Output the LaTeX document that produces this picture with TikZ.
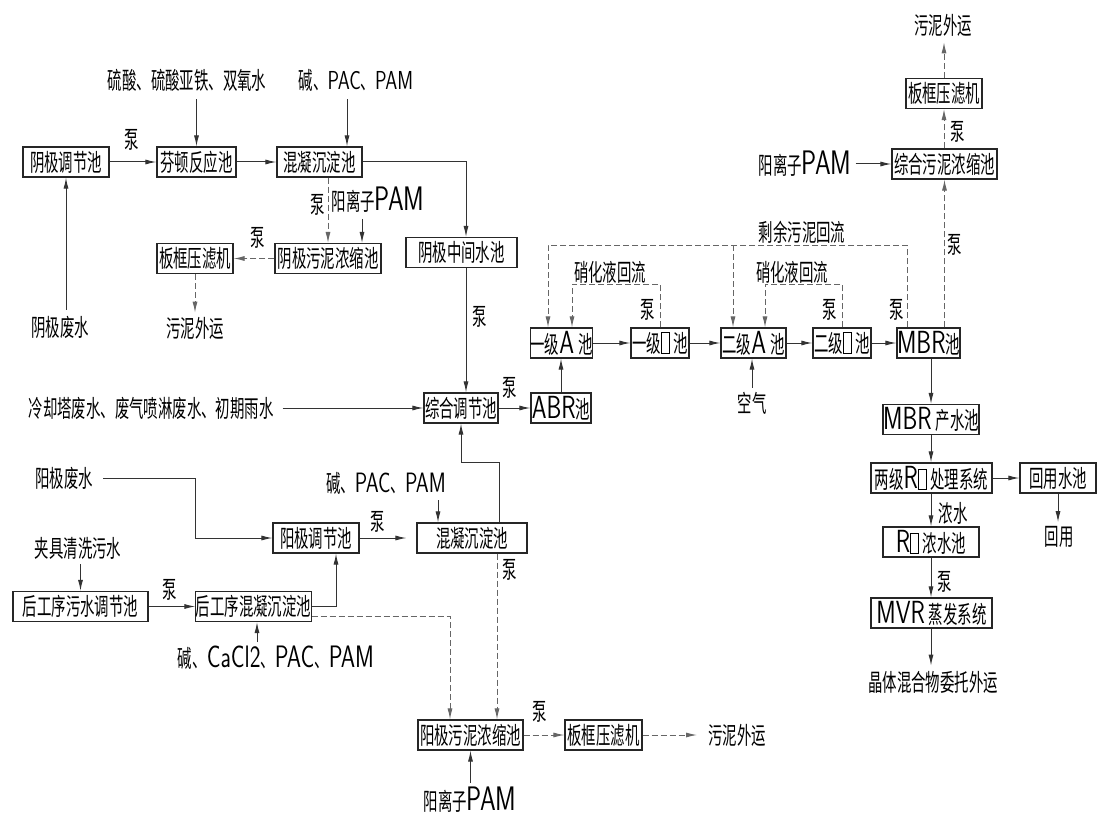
\documentclass[tikz,border=0pt]{standalone}
\usepackage{fontspec}
\usepackage{graphicx}
\setmainfont[FakeStretch=0.6]{Noto Sans CJK SC}
\usetikzlibrary{arrows.meta,calc}
\newcommand\lt[2][32]{{\sffamily\fontsize{#1}{#1}\selectfont\addfontfeatures{LetterSpace=20}\scalebox{0.74}[1]{#2}}}
\newcommand\tofu{\raisebox{-0.05em}{\setlength\fboxsep{0pt}\setlength\fboxrule{0.8pt}\fbox{\rule{0pt}{20pt}\hspace{7pt}}}}
\tikzset{
  box/.style={draw=black!85, line width=1.1pt, minimum height=30pt, inner sep=0pt, font=\fontsize{24}{26}\selectfont},
  txt/.style={inner sep=0pt, font=\fontsize{24}{26}\selectfont},
  arr/.style={draw=black!80, line width=1pt, -{Latex[length=11pt,width=5pt]}},
  dsh/.style={arr, draw=black!60, dash pattern=on 6pt off 3pt}
}
\begin{document}
\begin{tikzpicture}[x=1pt,y=-1pt]
\useasboundingbox (0,0) rectangle (1097,818);
\fill[white] (0,0) rectangle (1097,818);
% ---------- boxes ----------
\node[box,minimum width=86pt]  (yjtj)   at (66,162)     {阴极调节池};
\node[box,minimum width=79pt]  (fenton) at (196.5,162)  {芬顿反应池};
\node[box,minimum width=85pt]  (hn1)    at (319.5,162)  {混凝沉淀池};
\node[box,minimum width=76pt]  (bk1)    at (195,258.5)  {板框压滤机};
\node[box,minimum width=106pt] (yjwn)   at (328,258.5)  {阴极污泥浓缩池};
\node[box,minimum width=111pt] (yjzj)   at (461.5,252.5){阴极中间水池};
\node[box,minimum width=74pt]  (zh)     at (461,408)    {综合调节池};
\node[box,minimum width=60pt]  (abr)    at (561,408)    {\lt{ABR}池};
\node[box,minimum width=61pt]  (a1)     at (561.5,343)  {一级\lt{A}\,池};
\node[box,minimum width=58pt]  (o1)     at (660,343)    {一级\tofu\,池};
\node[box,minimum width=65pt]  (a2)     at (753.5,343)  {二级\lt{A}\,池};
\node[box,minimum width=58pt]  (o2)     at (842,343)    {二级\tofu\,池};
\node[box,minimum width=61pt]  (mbr)    at (928.5,343)  {\lt{MBR}池};
\node[box,minimum width=105pt] (zhwn)   at (944.5,164)  {综合污泥浓缩池};
\node[box,minimum width=76pt]  (bk2)    at (944,93.5)   {板框压滤机};
\node[box,minimum width=96pt]  (mbrcs)  at (931,419.5)  {\lt{MBR}\,产水池};
\node[box,minimum width=121pt] (ro)     at (931.5,478)  {两级\lt{R}\tofu\,处理系统};
\node[box,minimum width=76pt]  (hy)     at (1058,478)   {回用水池};
\node[box,minimum width=96pt]  (ronz)   at (931,542)    {\lt{R}\tofu\,浓水池};
\node[box,minimum width=121pt] (mvr)    at (931.5,613)  {\lt{MVR}\,蒸发系统};
\node[box,minimum width=86pt]  (yangtj) at (316,538)    {阳极调节池};
\node[box,minimum width=110pt] (hn2)    at (472,538)    {混凝沉淀池};
\node[box,minimum width=135pt] (hgtj)   at (80.5,606.5) {后工序污水调节池};
\node[box,minimum width=113pt] (hghn)   at (253.5,606.5){后工序混凝沉淀池};
\node[box,minimum width=105pt] (yangwn) at (470.5,735)  {阳极污泥浓缩池};
\node[box,minimum width=77pt]  (bk3)    at (603.5,735)  {板框压滤机};
% ---------- texts ----------
\node[txt] (t1)  at (187,80)  {硫酸、硫酸亚铁、双氧水};
\node[txt] (t2)  at (356,80)  {碱、\lt[26]{PAC}、\lt[26]{PAM}};
\node[txt] (t3)  at (378,200) {阳离子\lt[34]{PAM}};
\node[txt] (t4)  at (60,327)  {阴极废水};
\node[txt] (t5)  at (195,328) {污泥外运};
\node[txt] (t6)  at (151,408) {冷却塔废水、废气喷淋废水、初期雨水};
\node[txt] (t7)  at (64,478)  {阳极废水};
\node[txt] (t8)  at (78,548)  {夹具清洗污水};
\node[txt] (t9)  at (386,483) {碱、\lt[28]{PAC}、\lt[28]{PAM}};
\node[txt] (t10) at (276,658) {碱、\lt[31]{CaCl2}、\lt[31]{PAC}、\lt[31]{PAM}};
\node[txt] (t11) at (470,800) {阳离子\lt[34]{PAM}};
\node[txt] (t12) at (737,735) {污泥外运};
\node[txt] (t13) at (752,403) {空气};
\node[txt] (t14) at (802,232) {剩余污泥回流};
\node[txt] (t15) at (610,272) {硝化液回流};
\node[txt] (t15b) at (792,272) {硝化液回流};
\node[txt] (t16) at (805,164) {阳离子\lt[34]{PAM}};
\node[txt] (t17) at (943,25)  {污泥外运};
\node[txt] (t18) at (1059,537) {回用};
\node[txt] (t19) at (933,682) {晶体混合物委托外运};
% pump labels
\node[txt] (p1)  at (132,140) {泵};
\node[txt] (p2)  at (318,205) {泵};
\node[txt] (p3)  at (258,238) {泵};
\node[txt] (p4)  at (480,317) {泵};
\node[txt] (p5)  at (510,388) {泵};
\node[txt] (p6)  at (648,310) {泵};
\node[txt] (p7)  at (830,310) {泵};
\node[txt] (p8)  at (897,310) {泵};
\node[txt] (p9)  at (958,132) {泵};
\node[txt] (p10) at (955,245) {泵};
\node[txt] (p11) at (945,582) {泵};
\node[txt] (p12) at (378,522) {泵};
\node[txt] (p13) at (510,570) {泵};
\node[txt] (p14) at (170,590) {泵};
\node[txt] (p15) at (540,712) {泵};
\node[txt] (nsh) at (953,513) {浓水};
% ---------- coordinates ----------
\coordinate (hn1a) at ($(hn1.north)+(27.5,0)$);
\coordinate (yjzja) at ($(yjzj.north)+(4.5,0)$);
\coordinate (yjwna) at ($(yjwn.north)+(34,0)$);
\coordinate (mbrt) at ($(mbr.north)+(-21.5,0)$);
\coordinate (top) at ($(mbrt)+(0,-82)$);
\coordinate (a1o) at ($(a1.north)+(-13.5,0)$);
\coordinate (a2o) at ($(a2.north)+(-20.5,0)$);
\coordinate (a1i) at ($(a1.north)+(10.5,0)$);
\coordinate (a2i) at ($(a2.north)+(11.5,0)$);
\coordinate (mbrr) at ($(mbr.north)+(16,0)$);
\coordinate (k1) at (195,538);
\coordinate (yangtja) at ($(yangtj.south)+(20,0)$);
\coordinate (hghnb) at ($(hghn.south)+(3.5,0)$);
\coordinate (hghnr) at ($(hghn.east)+(0,10)$);
\coordinate (yangwna) at ($(yangwn.north)+(-20.5,0)$);
\coordinate (hn2a) at ($(hn2.north)+(-34,0)$);
\coordinate (hn2b) at ($(hn2.north)+(27,0)$);
\coordinate (hn2c) at ($(hn2.south)+(25,0)$);
% ---------- connectors: cathode line ----------
\draw[arr,shorten <=6pt] (t4.north -| yjtj.south) -- (yjtj.south);
\draw[arr] (yjtj.east) -- (fenton.west);
\draw[arr,shorten <=8pt] (t1.south -| fenton.north) -- (fenton.north);
\draw[arr] (fenton.east) -- (hn1.west);
\draw[arr,shorten <=8pt] (t2.south -| hn1a) -- (hn1a);
\draw[arr] (hn1.east) -| (yjzja);
\draw[dsh] (yjwn.north |- hn1.south) -- (yjwn.north);
\draw[arr,shorten <=6pt] (t3.south -| yjwna) -- (yjwna);
\draw[dsh] (yjwn.west) -- (bk1.east);
\draw[dsh,shorten >=4pt] (bk1.south) -- (t5.north);
\draw[arr] (yjzja |- yjzj.south) -- (yjzja |- zh.north);
\draw[arr,shorten <=9pt] (t6.east) -- (zh.west);
% ---------- biological line ----------
\draw[arr] (zh.east) -- (abr.west);
\draw[arr] (abr.north) -- (abr.north |- a1.south);
\draw[arr] (a1.east) -- (o1.west);
\draw[arr] (o1.east) -- (a2.west);
\draw[arr] (a2.east) -- (o2.west);
\draw[arr] (o2.east) -- (mbr.west);
\draw[arr,shorten <=4pt] (t13.north) -- (t13.north |- a2.south);
\draw[dsh] (mbrt) -- (top) -| (a1o);
\draw[dsh] (a2o |- top) -- (a2o);
\draw[dsh] (o1.north) -- ++(0,-43) -| (a1i);
\draw[dsh] (o2.north) -- ++(0,-43) -| (a2i);
\draw[dsh] (mbrr) -- (mbrr |- zhwn.south);
\draw[arr,shorten <=4pt] (t16.east) -- (zhwn.west);
\draw[dsh] (zhwn.north -| bk2.south) -- (bk2.south);
\draw[dsh,shorten >=6pt] (bk2.north) -- (bk2.north |- t17.south);
% ---------- MBR effluent ----------
\draw[arr] (mbrcs.north |- mbr.south) -- (mbrcs.north);
\draw[arr] (mbrcs.south) -- (mbrcs.south |- ro.north);
\draw[arr] (ro.east) -- (hy.west);
\draw[arr,shorten >=4pt] (hy.south) -- (hy.south |- t18.north);
\draw[arr] (mbrcs.south |- ro.south) -- (ronz.north);
\draw[arr] (ronz.south) -- (ronz.south |- mvr.north);
\draw[arr,shorten >=5pt] (ronz.south |- mvr.south) -- (ronz.south |- t19.north);
% ---------- anode line ----------
\draw[arr,shorten <=10pt] (t7.east) -| (k1) -- (yangtj.west);
\draw[arr,shorten <=5pt] (hgtj.north |- t8.south) -- (hgtj.north);
\draw[arr] (hgtj.east) -- (hghn.west);
\draw[arr] (hghn.east) -| (yangtja);
\draw[arr,shorten <=4pt] (hghnb |- t10.north) -- (hghnb);
\draw[dsh] (hghnr) -| (yangwna);
\draw[arr,shorten >=10pt] (yangtj.east) -- (hn2.west);
\draw[arr,shorten <=6pt] (t9.south -| hn2a) -- (hn2a);
\draw[arr] (hn2b) -- ++(0,-60) -| (zh.south);
\draw[dsh] (hn2c) -- (hn2c |- yangwn.north);
\draw[arr,shorten <=4pt] (t11.north -| yangwn.south) -- (yangwn.south);
\draw[dsh] (yangwn.east) -- (bk3.west);
\draw[dsh,shorten >=11pt] (bk3.east) -- (t12.west);
\end{tikzpicture}
\end{document}
